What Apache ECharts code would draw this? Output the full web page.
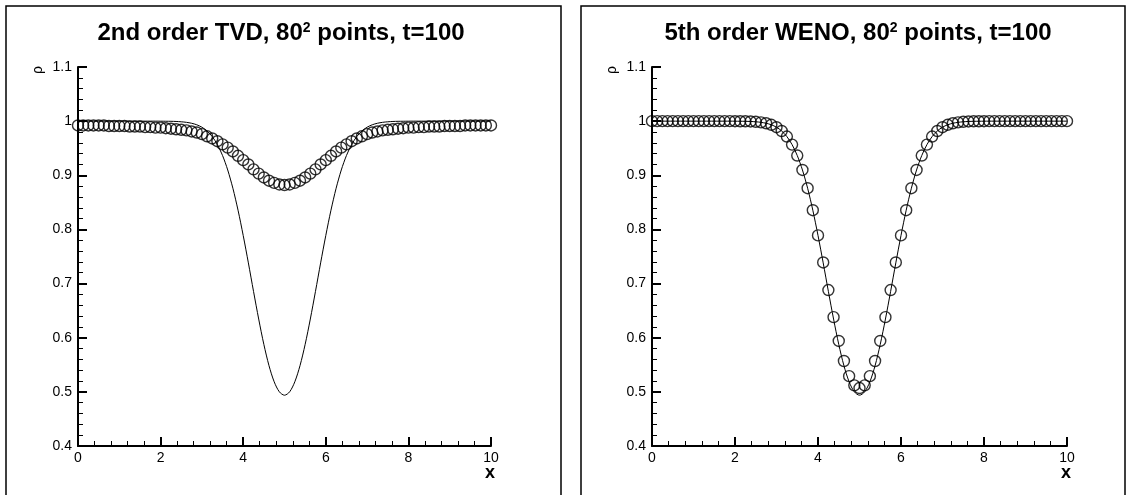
<!DOCTYPE html>
<html><head><meta charset="utf-8">
<script src="https://cdn.jsdelivr.net/npm/echarts@6/dist/echarts.min.js"></script>
<style>html,body{margin:0;padding:0;background:#fff}#c{width:1132px;height:495px}</style>
</head><body><div id="c"></div>
<script>
// x grid positions (80^2 mesh line through vortex centre)
var xs = [0,0.125,0.25,0.375,0.5,0.625,0.75,0.875,1,1.125,1.25,1.375,1.5,1.625,1.75,1.875,
2,2.125,2.25,2.375,2.5,2.625,2.75,2.875,3,3.125,3.25,3.375,3.5,3.625,3.75,3.875,
4,4.125,4.25,4.375,4.5,4.625,4.75,4.875,5,5.125,5.25,5.375,5.5,5.625,5.75,5.875,
6,6.125,6.25,6.375,6.5,6.625,6.75,6.875,7,7.125,7.25,7.375,7.5,7.625,7.75,7.875,
8,8.125,8.25,8.375,8.5,8.625,8.75,8.875,9,9.125,9.25,9.375,9.5,9.625,9.75,9.875,10];

// exact solution (solid line)
var exactRho = [1,1,1,1,1,1,1,1,1,1,1,1,1,1,1,1,
0.9999,0.9998,0.9997,0.9994,0.9988,0.9978,0.9961,0.9933,0.9888,0.9818,0.9715,0.9567,0.9365,0.9098,0.8761,0.8355,
0.7889,0.7382,0.6856,0.6345,0.5877,0.5483,0.5186,0.5001,0.4938,0.5001,0.5186,0.5483,0.5877,0.6345,0.6856,0.7382,
0.7889,0.8355,0.8761,0.9098,0.9365,0.9567,0.9715,0.9818,0.9888,0.9933,0.9961,0.9978,0.9988,0.9994,0.9997,0.9998,
0.9999,1,1,1,1,1,1,1,1,1,1,1,1,1,1,1,1];

// 2nd order TVD numerical solution (circles, left)
var tvdRho = [0.992,0.992,0.992,0.992,0.992,0.992,0.991,0.991,0.991,0.991,0.990,0.990,0.990,0.989,0.989,0.988,
0.988,0.987,0.986,0.985,0.984,0.983,0.981,0.979,0.976,0.972,0.968,0.963,0.957,0.951,0.944,0.936,
0.928,0.920,0.911,0.903,0.896,0.890,0.886,0.883,0.882,0.883,0.886,0.890,0.896,0.903,0.911,0.920,
0.928,0.936,0.944,0.951,0.957,0.963,0.968,0.972,0.976,0.979,0.981,0.983,0.984,0.985,0.986,0.987,
0.988,0.988,0.989,0.989,0.990,0.990,0.990,0.991,0.991,0.991,0.991,0.992,0.992,0.992,0.992,0.992,0.992];

// 5th order WENO numerical solution (circles, right)
var wenoRho = [1,1,1,1,1,1,1,1,1,1,1,1,1,1,1,1,
0.9999,0.9998,0.9997,0.9994,0.9988,0.9978,0.9961,0.9933,0.9888,0.9818,0.9715,0.9567,0.9365,0.9098,0.8761,0.8355,
0.789,0.739,0.688,0.638,0.594,0.557,0.529,0.512,0.507,0.512,0.529,0.557,0.594,0.638,0.688,0.739,
0.789,0.8355,0.8761,0.9098,0.9365,0.9567,0.9715,0.9818,0.9888,0.9933,0.9961,0.9978,0.9988,0.9994,0.9997,0.9998,
0.9999,1,1,1,1,1,1,1,1,1,1,1,1,1,1,1,1];

var xTicks = {min: 0, max: 10, interval: 2};
var yTicks = {min: 0.4, max: 1.1, interval: 0.1};

var FONT = "'Liberation Sans', Arial, Helvetica, sans-serif";
function pairs(a, b){ return a.map(function(v,i){ return [v, b[i]]; }); }

function xAxis(idx){
  return {gridIndex: idx, type: 'value', min: xTicks.min, max: xTicks.max, interval: xTicks.interval,
    axisLine: {show: true, lineStyle: {color: '#000', width: 2}},
    axisTick: {show: true, inside: true, length: 9, lineStyle: {color: '#000', width: 2}},
    minorTick: {show: true, splitNumber: 5, length: 5, lineStyle: {color: '#000', width: 1}},
    splitLine: {show: false},
    axisLabel: {color: '#000', fontSize: 14, fontFamily: FONT, margin: 5}};
}
function yAxis(idx){
  return {gridIndex: idx, type: 'value', min: yTicks.min, max: yTicks.max, interval: yTicks.interval,
    axisLine: {show: true, lineStyle: {color: '#000', width: 2}},
    axisTick: {show: true, inside: true, length: 9, lineStyle: {color: '#000', width: 2}},
    minorTick: {show: true, splitNumber: 5, length: 5, lineStyle: {color: '#000', width: 1}},
    splitLine: {show: false},
    axisLabel: {color: '#000', fontSize: 14, fontFamily: FONT, margin: 6,
      formatter: function(v){ return String(Math.round(v*10)/10); }}};
}
function lineSeries(idx, data){
  return {type: 'line', xAxisIndex: idx, yAxisIndex: idx, data: pairs(xs, data), showSymbol: false,
    smooth: 0.3, lineStyle: {color: '#000', width: 1}, animation: false, silent: true, z: 2};
}
function circleSeries(idx, data){
  return {type: 'scatter', xAxisIndex: idx, yAxisIndex: idx, data: pairs(xs, data), symbol: 'circle', symbolSize: 11,
    clip: false, itemStyle: {color: 'rgba(0,0,0,0)', borderColor: '#000', borderWidth: 1.4}, animation: false, silent: true, z: 3};
}
function titleText(cx, label){
  return {type: 'text', x: cx, y: 21, style: {text: label, fill: '#000', font: 'bold 24px ' + FONT,
    align: 'center', verticalAlign: 'top',
    rich: {s: {fontSize: 14, fontWeight: 'bold', fontFamily: FONT, fill: '#000', verticalAlign: 'top', lineHeight: 10}}}};
}

var chart = echarts.init(document.getElementById('c'), null, {renderer: 'canvas'});
chart.setOption({
  backgroundColor: '#fff',
  animation: false,
  grid: [
    {left: 78, top: 67, width: 413, height: 379},
    {left: 652, top: 67, width: 415, height: 379}
  ],
  xAxis: [xAxis(0), xAxis(1)],
  yAxis: [yAxis(0), yAxis(1)],
  series: [lineSeries(0, exactRho), circleSeries(0, tvdRho), lineSeries(1, exactRho), circleSeries(1, wenoRho)],
  graphic: [
    {type: 'rect', shape: {x: 6, y: 6, width: 555, height: 500}, style: {fill: 'none', stroke: '#000', lineWidth: 1.5}},
    {type: 'rect', shape: {x: 581, y: 6, width: 544, height: 500}, style: {fill: 'none', stroke: '#000', lineWidth: 1.5}},
    titleText(281, '2nd order TVD, 80{s|2} points, t=100'),
    titleText(858, '5th order WENO, 80{s|2} points, t=100'),
    {type: 'text', x: 38, y: 70, rotation: Math.PI/2, style: {text: 'ρ', fill: '#000', font: '14px ' + FONT, align: 'center', verticalAlign: 'middle'}},
    {type: 'text', x: 612, y: 70, rotation: Math.PI/2, style: {text: 'ρ', fill: '#000', font: '14px ' + FONT, align: 'center', verticalAlign: 'middle'}},
    {type: 'text', x: 490, y: 473, style: {text: 'x', fill: '#000', font: 'bold 18px ' + FONT, align: 'center', verticalAlign: 'middle'}},
    {type: 'text', x: 1066, y: 473, style: {text: 'x', fill: '#000', font: 'bold 18px ' + FONT, align: 'center', verticalAlign: 'middle'}}
  ]
});
</script>
</body></html>
